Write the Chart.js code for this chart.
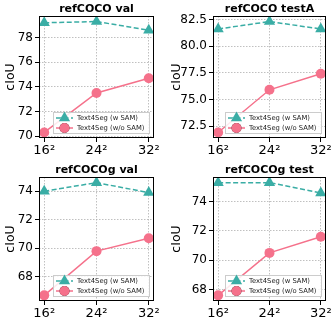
<!DOCTYPE html>
<html>
<head>
<meta charset="utf-8">
<script src="https://cdn.jsdelivr.net/npm/chart.js@4.4.1/dist/chart.umd.min.js"></script>
<style>
  html, body { margin: 0; padding: 0; background: #fff; }
  body { width: 333px; height: 322px; position: relative; overflow: hidden; }
  .panel { position: absolute; }
</style>
</head>
<body>
<div class="panel" style="left:0;top:0;width:166px;height:161px"><canvas id="c0"></canvas></div>
<div class="panel" style="left:166px;top:0;width:167px;height:161px"><canvas id="c1"></canvas></div>
<div class="panel" style="left:0;top:161px;width:166px;height:161px"><canvas id="c2"></canvas></div>
<div class="panel" style="left:166px;top:161px;width:167px;height:161px"><canvas id="c3"></canvas></div>
<script>
// dados
const tokenLabels = ['16²', '24²', '32²'];
const seriesNames = ['Text4Seg (w SAM)', 'Text4Seg (w/o SAM)'];
const panelTitles = ['refCOCO val', 'refCOCO testA', 'refCOCOg val', 'refCOCOg test'];

const withSam = [
  [79.2, 79.3, 78.6],
  [81.6, 82.3, 81.6],
  [74.0, 74.6, 73.9],
  [75.3, 75.3, 74.6]
];
const withoutSam = [
  [70.3, 73.5, 74.7],
  [71.9, 75.9, 77.4],
  [66.7, 69.8, 70.7],
  [67.6, 70.5, 71.6]
];
const yTicks = [
  [70, 72, 74, 76, 78],
  [72.5, 75.0, 77.5, 80.0, 82.5],
  [68, 70, 72, 74],
  [68, 70, 72, 74]
];
const yTickText = [
  ['70', '72', '74', '76', '78'],
  ['72.5', '75.0', '77.5', '80.0', '82.5'],
  ['68', '70', '72', '74'],
  ['68', '70', '72', '74']
];

const teal = '#3aada5';
const pink = '#f5718b';
const gridColor = '#b0b0b0';

// moldura, título e legenda
const framePlugin = {
  id: 'frame',
  afterDraw(chart) {
    const { ctx, chartArea: a } = chart;
    const idx = chart.options.plugins.frame.idx;
    ctx.save();
    ctx.strokeStyle = '#000';
    ctx.lineWidth = 1;
    ctx.strokeRect(Math.round(a.left) + 0.5, Math.round(a.top) + 0.5,
      Math.round(a.right - a.left) - 1, Math.round(a.bottom - a.top) - 1);

    // título centrado sobre a área do gráfico
    ctx.fillStyle = '#000';
    ctx.font = 'bold 11px "DejaVu Sans"';
    ctx.textAlign = 'center';
    ctx.textBaseline = 'middle';
    ctx.fillText(panelTitles[idx], (a.left + a.right) / 2, 9.5);

    // legenda
    const w = 96, h = 21;
    const x0 = Math.round(a.right - 5 - w), y0 = Math.round(a.bottom - 5 - h);
    ctx.fillStyle = 'rgba(255,255,255,0.85)';
    ctx.fillRect(x0, y0, w, h);
    ctx.strokeStyle = '#cccccc';
    ctx.lineWidth = 1;
    ctx.strokeRect(x0 + 0.5, y0 + 0.5, w, h);
    ctx.font = '6.8px "DejaVu Sans"';
    ctx.textAlign = 'left';
    chart.data.datasets.forEach((ds, i) => {
      const cy = y0 + 6 + i * 10;
      ctx.strokeStyle = ds.borderColor;
      ctx.lineWidth = 1.5;
      ctx.setLineDash(ds.borderDash || []);
      ctx.beginPath();
      ctx.moveTo(x0 + 3, cy);
      ctx.lineTo(x0 + 20, cy);
      ctx.stroke();
      ctx.setLineDash([]);
      Chart.helpers.drawPoint(ctx, {
        pointStyle: ds.pointStyle, radius: ds.pointRadius, rotation: 0,
        borderWidth: 0
      }, x0 + 11.5, cy);
      ctx.fillStyle = ds.pointBackgroundColor;
      ctx.fill();
      ctx.fillStyle = '#222';
      ctx.fillText(ds.label, x0 + 24, cy);
    });
    ctx.restore();
  }
};

const layouts = [
  { yw: 39, xh: 23, right: 12 },
  { yw: 47, xh: 23, right: 7 },
  { yw: 39, xh: 21, right: 12 },
  { yw: 47, xh: 21, right: 7 }
];

function makeChart(i) {
  const L = layouts[i];
  const ticks = yTicks[i];
  const allVals = withSam[i].concat(withoutSam[i]);
  const lo = Math.min(...allVals), hi = Math.max(...allVals);
  const pad = (hi - lo) * 0.05;
  new Chart(document.getElementById('c' + i), {
    type: 'line',
    data: {
      datasets: [{
        label: seriesNames[0],
        data: withSam[i].map((v, k) => ({ x: k, y: v })),
        borderColor: teal,
        backgroundColor: teal,
        pointBackgroundColor: teal,
        pointBorderWidth: 0,
        borderWidth: 1.5,
        borderDash: [5, 2.5],
        pointStyle: 'triangle',
        pointRadius: 6.5,
        tension: 0
      }, {
        label: seriesNames[1],
        data: withoutSam[i].map((v, k) => ({ x: k, y: v })),
        borderColor: pink,
        backgroundColor: pink,
        pointBackgroundColor: pink,
        pointBorderWidth: 0,
        borderWidth: 1.5,
        pointStyle: 'circle',
        pointRadius: 5,
        tension: 0
      }]
    },
    options: {
      responsive: true,
      maintainAspectRatio: false,
      animation: false,
      layout: { padding: { left: 0, right: L.right, top: 16, bottom: 0 } },
      plugins: {
        legend: { display: false },
        tooltip: { enabled: false },
        title: { display: false },
        frame: { idx: i }
      },
      scales: {
        x: {
          type: 'linear',
          min: -0.1,
          max: 2.1,
          afterBuildTicks: s => { s.ticks = [0, 1, 2].map(v => ({ value: v })); },
          afterFit: s => { s.height = L.xh; },
          ticks: {
            color: '#000',
            font: { family: 'DejaVu Sans', size: 13 },
            padding: 1,
            maxRotation: 0,
            callback: v => tokenLabels[v]
          },
          grid: {
            color: gridColor, lineWidth: 0.8, drawTicks: true, tickLength: 4,
            tickColor: '#000', tickWidth: 1, tickBorderDash: []
          },
          border: { display: false, dash: [1.5, 1.5] }
        },
        y: {
          min: lo - pad,
          max: hi + pad,
          afterBuildTicks: s => { s.ticks = ticks.map(v => ({ value: v })); },
          afterFit: s => { s.width = L.yw; },
          ticks: {
            color: '#000',
            font: { family: 'DejaVu Sans', size: 12 },
            padding: 2,
            callback: (v) => yTickText[i][ticks.indexOf(v)]
          },
          title: {
            display: true, text: 'cIoU', color: '#000',
            font: { family: 'DejaVu Sans', size: 12.5 },
            padding: { top: 3, bottom: 0 }
          },
          grid: {
            color: gridColor, lineWidth: 0.8, drawTicks: true, tickLength: 4,
            tickColor: '#000', tickWidth: 1, tickBorderDash: []
          },
          border: { display: false, dash: [1.5, 1.5] }
        }
      }
    },
    plugins: [framePlugin]
  });
}

for (let i = 0; i < 4; i++) makeChart(i);
</script>
</body>
</html>
